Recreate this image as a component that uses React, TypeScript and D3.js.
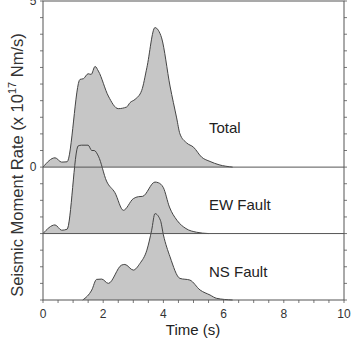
import { useEffect } from 'react';
import * as d3 from 'd3';

// time (s) and moment rate (x 1e17 Nm/s)
const totalT = [0, 0.4, 0.62, 0.8, 1.23, 1.34, 1.5, 1.6, 1.73, 1.84, 2.17, 2.5, 2.78, 2.89, 3.06, 3.28, 3.45, 3.72, 3.83, 3.94, 4.22, 4.44, 4.55, 4.77, 5.0, 5.27, 5.55, 5.85, 6.3];
const totalV = [0, 0.28, 0.15, 0.16, 2.64, 2.66, 2.81, 2.79, 3.03, 2.89, 2.14, 1.76, 1.81, 1.94, 2.04, 2.31, 2.99, 4.2, 4.12, 3.89, 2.44, 1.48, 1.0, 0.73, 0.6, 0.3, 0.17, 0.07, 0];

const ewT = [0, 0.4, 0.62, 0.8, 1.17, 1.28, 1.5, 1.62, 1.7, 1.84, 2.11, 2.39, 2.67, 3.0, 3.17, 3.31, 3.72, 3.83, 4.0, 4.2, 4.45, 4.75, 5.1, 5.5];
const ewV = [0, 0.26, 0.1, 0.13, 2.64, 2.66, 2.66, 2.5, 2.5, 2.33, 1.58, 1.23, 0.7, 1.05, 1.11, 1.12, 1.55, 1.53, 1.38, 0.8, 0.4, 0.15, 0.04, 0];

const nsT = [1.32, 1.62, 1.78, 1.95, 2.17, 2.61, 2.72, 3.0, 3.22, 3.45, 3.61, 3.72, 3.9, 4.0, 4.22, 4.55, 4.88, 5.22, 5.55, 5.77, 6.3];
const nsV = [0, 0.3, 0.62, 0.63, 0.5, 1.05, 1.07, 0.9, 1.1, 1.5, 2.1, 2.6, 2.4, 1.96, 1.3, 0.65, 0.6, 0.3, 0.15, 0.05, 0];

const traceNames = ['Total', 'EW Fault', 'NS Fault'];
const traceOffsets = [0, -2, -4];

const xTickLabels = [0, 2, 4, 6, 8, 10];

export default function App() {
  useEffect(() => {
    document.body.style.margin = '0';
  }, []);

  const width = 353;
  const height = 350;
  const x = d3.scaleLinear().domain([0, 10]).range([43, 344]);
  const y = d3.scaleLinear().domain([-4, 5]).range([300, 1]);

  const series = [
    totalT.map((t, i) => [t, totalV[i]]),
    ewT.map((t, i) => [t, ewV[i]]),
    nsT.map((t, i) => [t, nsV[i]]),
  ];

  const area = (off: number) =>
    d3.area<number[]>()
      .x(d => x(d[0]))
      .y0(y(off))
      .y1(d => y(d[1] + off))
      .curve(d3.curveMonotoneX);
  const line = (off: number) =>
    d3.line<number[]>()
      .x(d => x(d[0]))
      .y(d => y(d[1] + off))
      .curve(d3.curveMonotoneX);

  const yTicks = d3.range(-4, 5.01, 0.5);
  const xTicks = d3.range(0, 10.01, 0.5);
  const font = 'Liberation Sans, Arial, Helvetica, sans-serif';
  const axisColor = '#555';

  return (
    <svg width={width} height={height} style={{ display: 'block', background: '#fff' }} fontFamily={font}>
      {series.map((s, i) => (
        <g key={i}>
          <path d={area(traceOffsets[i])(s) as string} fill="#c6c6c6" />
          <path d={line(traceOffsets[i])(s) as string} fill="none" stroke="#444" strokeWidth={1} />
        </g>
      ))}
      {/* baselines */}
      {traceOffsets.slice(0, 2).map((off, i) => (
        <line key={i} x1={x(0)} x2={x(10)} y1={y(off)} y2={y(off)} stroke={axisColor} strokeWidth={1} />
      ))}
      {/* frame */}
      <rect x={x(0)} y={y(5)} width={x(10) - x(0)} height={y(-4) - y(5)} fill="none" stroke={axisColor} strokeWidth={1} />
      {yTicks.map((t, i) => (
        <g key={i}>
          <line x1={x(0) - 3} x2={x(0)} y1={y(t)} y2={y(t)} stroke={axisColor} strokeWidth={0.8} />
          <line x1={x(10)} x2={x(10) + 3} y1={y(t)} y2={y(t)} stroke={axisColor} strokeWidth={0.8} />
        </g>
      ))}
      {xTicks.map((t, i) => (
        <line key={i} x1={x(t)} x2={x(t)} y1={y(-4)} y2={y(-4) + 3} stroke={axisColor} strokeWidth={0.8} />
      ))}
      {xTickLabels.map(t => (
        <text key={t} x={x(t)} y={318} textAnchor="middle" fontSize={12} fill="#333">{t}</text>
      ))}
      <text x={33} y={y(0)} dy="0.35em" textAnchor="middle" fontSize={12} fill="#333">0</text>
      <text x={33} y={y(5)} dy="0.35em" textAnchor="middle" fontSize={12} fill="#333">5</text>
      {/* trace labels */}
      {traceNames.map((n, i) => (
        <text key={n} x={209} y={[133, 210, 277][i]} fontSize={15} fill="#222">{n}</text>
      ))}
      <text x={193} y={335} textAnchor="middle" fontSize={15} fill="#222">Time (s)</text>
      <text transform={`translate(23,${165}) rotate(-90)`} textAnchor="middle" fontSize={16.5} fill="#333">
        Seismic Moment Rate (x 10<tspan fontSize={11} dy={-7}>17</tspan><tspan dy={7}> Nm/s)</tspan>
      </text>
    </svg>
  );
}
